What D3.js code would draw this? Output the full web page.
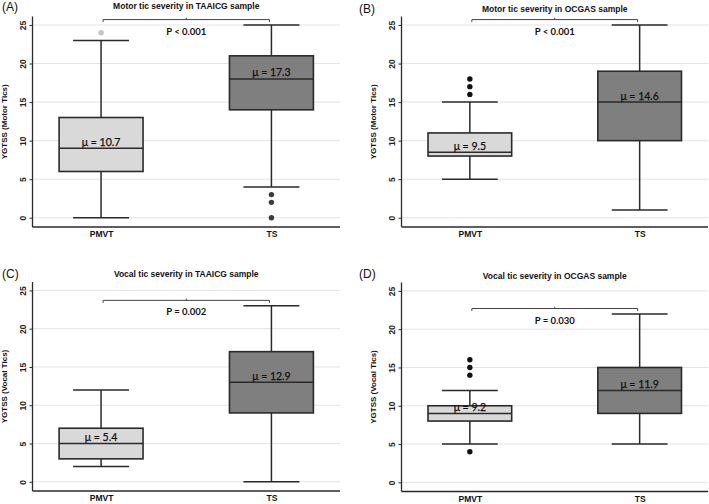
<!DOCTYPE html>
<html>
<head>
<meta charset="utf-8">
<script src="https://cdn.jsdelivr.net/npm/d3@7"></script>
<style>
  html, body { margin: 0; padding: 0; background: #fff; }
  svg { display: block; }
</style>
</head>
<body>
<svg id="chart" width="709" height="504"></svg>
<script>
// ---------- data ----------
const categories = ["PMVT", "TS"];
const panelLetters = ["(A)", "(B)", "(C)", "(D)"];
const panelTitles = [
  "Motor tic severity in TAAICG sample",
  "Motor tic severity in OCGAS sample",
  "Vocal tic severity in TAAICG sample",
  "Vocal tic severity in OCGAS sample"
];
const yAxisLabels = [
  "YGTSS (Motor Tics)",
  "YGTSS (Motor Tics)",
  "YGTSS (Vocal Tics)",
  "YGTSS (Vocal Tics)"
];
const pValueLabels = ["P < 0.001", "P < 0.001", "P = 0.002", "P = 0.030"];
// [min, q1, median, q3, max]
const pmvtStats = [
  [0, 6, 9, 13, 23],
  [5, 8, 8.5, 11, 15],
  [2, 3, 5, 7, 12],
  [5, 8, 9, 10, 12]
];
const tsStats = [
  [4, 14, 18, 21, 25],
  [1, 10, 15, 19, 25],
  [0, 9, 13, 17, 23],
  [5, 9, 12, 15, 22]
];
const pmvtMeans = [10.7, 9.5, 5.4, 9.2];
const tsMeans = [17.3, 14.6, 12.9, 11.9];
const pmvtOutliers = [[24], [16, 17, 18], [], [4, 14, 15, 16]];
const tsOutliers = [[0, 2, 3], [], [], []];
const yTicks = [0, 5, 10, 15, 20, 25];
const yDomain = [-1.2, 26.1];

// ---------- layout / style ----------
const layout = [
  { x0: 32.5, x1: 340, y0: 16.5, y1: 227, titleY: 5.5 },
  { x0: 401.5, x1: 708, y0: 16.5, y1: 227, titleY: 9 },
  { x0: 32.5, x1: 340, y0: 282, y1: 491, titleY: 274 },
  { x0: 401.5, x1: 708, y0: 282.5, y1: 491.5, titleY: 275.5 }
];
const letterPos = [[2, 7], [359, 9], [2, 274], [359, 274]];
const boxFill = { PMVT: "#d9d9d9", TS: "#7f7f7f" };
const outlierFill = [
  { PMVT: "#c4c4c4", TS: "#3a3a3a" },
  { PMVT: "#111", TS: "#111" },
  { PMVT: "#111", TS: "#111" },
  { PMVT: "#111", TS: "#111" }
];
const strokeCol = "#2a2a2a";
const sansBold = "'Liberation Sans', Arial, sans-serif";
const labelFont = "Lato, 'Open Sans', sans-serif";

const svg = d3.select("#chart");

layout.forEach((L, i) => {
  const g = svg.append("g");
  const W = L.x1 - L.x0;
  const x = d3.scalePoint().domain(categories).range([L.x0, L.x1]).padding(0.4025);
  const y = d3.scaleLinear().domain(yDomain).range([L.y1, L.y0]);
  const boxW = 0.273 * W;
  const capW = boxW * 2 / 3;

  // gridlines
  g.append("g").selectAll("line").data(yTicks).join("line")
    .attr("x1", L.x0).attr("x2", L.x1)
    .attr("y1", d => y(d)).attr("y2", d => y(d))
    .attr("stroke", "#e3e3e3").attr("stroke-width", 1);

  // y axis
  const yAx = g.append("g").attr("transform", `translate(${L.x0},0)`)
    .call(d3.axisLeft(y).tickValues(yTicks).tickSize(3).tickSizeOuter(0));
  yAx.select(".domain").attr("stroke", strokeCol).attr("stroke-width", 1.3)
    .attr("d", `M0,${L.y0}V${L.y1}`);
  yAx.selectAll(".tick line").attr("stroke", strokeCol).attr("stroke-width", 1);
  yAx.selectAll(".tick text")
    .attr("transform", "rotate(-90)")
    .attr("x", 0).attr("y", -6.5).attr("dy", null)
    .attr("text-anchor", "middle")
    .attr("font-family", sansBold).attr("font-weight", "bold")
    .attr("font-size", 8.5).attr("fill", "#222");

  // x axis
  const xAx = g.append("g").attr("transform", `translate(0,${L.y1})`)
    .call(d3.axisBottom(x).tickSize(0).tickSizeOuter(0));
  xAx.select(".domain").attr("stroke", strokeCol).attr("stroke-width", 1.3)
    .attr("d", `M${L.x0},0H${L.x1}`);
  xAx.selectAll(".tick text")
    .attr("y", 4).attr("dy", "0.71em")
    .attr("font-family", sansBold).attr("font-weight", "bold")
    .attr("font-size", 8.5).attr("fill", "#111");

  // boxes
  const groups = [
    { cat: "PMVT", s: pmvtStats[i], mean: pmvtMeans[i], out: pmvtOutliers[i] },
    { cat: "TS", s: tsStats[i], mean: tsMeans[i], out: tsOutliers[i] }
  ];
  groups.forEach(b => {
    const cx = x(b.cat);
    const [mn, q1, md, q3, mx] = b.s;
    const bg = g.append("g");
    // whiskers
    bg.append("line").attr("x1", cx).attr("x2", cx).attr("y1", y(mn)).attr("y2", y(q1))
      .attr("stroke", strokeCol).attr("stroke-width", 1.5);
    bg.append("line").attr("x1", cx).attr("x2", cx).attr("y1", y(q3)).attr("y2", y(mx))
      .attr("stroke", strokeCol).attr("stroke-width", 1.5);
    [mn, mx].forEach(v => bg.append("line")
      .attr("x1", cx - capW / 2).attr("x2", cx + capW / 2)
      .attr("y1", y(v)).attr("y2", y(v))
      .attr("stroke", strokeCol).attr("stroke-width", 1.5));
    // box
    bg.append("rect").attr("x", cx - boxW / 2).attr("width", boxW)
      .attr("y", y(q3)).attr("height", y(q1) - y(q3))
      .attr("fill", boxFill[b.cat]).attr("stroke", strokeCol).attr("stroke-width", 1.6);
    bg.append("line").attr("x1", cx - boxW / 2).attr("x2", cx + boxW / 2)
      .attr("y1", y(md)).attr("y2", y(md))
      .attr("stroke", strokeCol).attr("stroke-width", 1.5);
    // outliers
    bg.selectAll("circle").data(b.out).join("circle")
      .attr("cx", cx).attr("cy", d => y(d)).attr("r", 2.7)
      .attr("fill", outlierFill[i][b.cat]);
    // mean label
    bg.append("text").attr("x", cx).attr("y", y(md) - 2.5)
      .attr("text-anchor", "middle")
      .attr("font-family", labelFont).attr("font-size", 10.5)
      .attr("stroke", "#111").attr("stroke-width", 0.25)
      .attr("fill", "#111")
      .text("\u03bc = " + b.mean.toFixed(1));
  });

  // significance bracket
  const top = Math.max(pmvtStats[i][4], tsStats[i][4]) + 0.7;
  const by = y(top);
  const bx1 = x("PMVT") + 2, bx2 = x("TS") - 2;
  const bm = (bx1 + bx2) / 2;
  g.append("path")
    .attr("d", `M${bx1},${by + 2.5}V${by}H${bx2}V${by + 2.5}M${bm},${by}V${by - 1.8}`)
    .attr("fill", "none").attr("stroke", "#444").attr("stroke-width", 1);
  g.append("text").attr("x", bm).attr("y", by + 11.5)
    .attr("text-anchor", "middle").attr("dominant-baseline", "central")
    .attr("font-family", labelFont).attr("font-weight", "bold").attr("font-size", 9.5)
    .attr("fill", "#111")
    .text(pValueLabels[i]);

  // title
  g.append("text").attr("x", (L.x0 + L.x1) / 2).attr("y", L.titleY)
    .attr("text-anchor", "middle").attr("dominant-baseline", "central")
    .attr("font-family", sansBold).attr("font-weight", "bold").attr("font-size", 8.5)
    .attr("fill", "#111")
    .text(panelTitles[i]);

  // y axis label
  g.append("text")
    .attr("transform", `translate(${L.x0 - 25.5},${(L.y0 + L.y1) / 2}) rotate(-90)`)
    .attr("text-anchor", "middle")
    .attr("font-family", sansBold).attr("font-weight", "bold").attr("font-size", 8)
    .attr("fill", "#111")
    .text(yAxisLabels[i]);

  // panel letter
  svg.append("text").attr("x", letterPos[i][0]).attr("y", letterPos[i][1])
    .attr("dominant-baseline", "central")
    .attr("font-family", sansBold).attr("font-size", 12).attr("fill", "#111")
    .text(panelLetters[i]);
});
</script>
</body>
</html>
